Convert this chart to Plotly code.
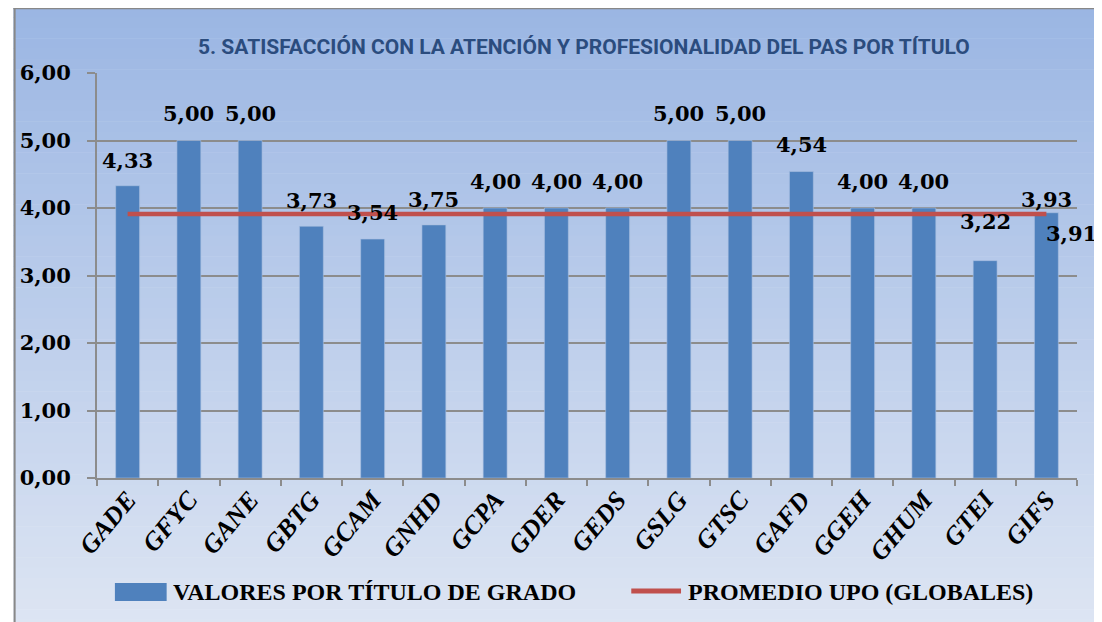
import plotly.graph_objects as go

categories = ["GADE", "GFYC", "GANE", "GBTG", "GCAM", "GNHD", "GCPA", "GDER",
              "GEDS", "GSLG", "GTSC", "GAFD", "GGEH", "GHUM", "GTEI", "GIFS"]
values = [4.33, 5.00, 5.00, 3.73, 3.54, 3.75, 4.00, 4.00,
          4.00, 5.00, 5.00, 4.54, 4.00, 4.00, 3.22, 3.93]
average = 3.91
avg_values = [average] * len(categories)
bar_name = "VALORES POR TÍTULO DE GRADO"
line_name = "PROMEDIO UPO (GLOBALES)"
title = "5. SATISFACCIÓN CON LA ATENCIÓN Y PROFESIONALIDAD DEL PAS POR TÍTULO"
y_ticks = [0, 1, 2, 3, 4, 5, 6]

# label placement offsets (pixels above bar top)
label_shift = [25, 27, 27, 26, 27, 25, 27, 27, 27, 27, 27, 27, 27, 27, 39, 13]

OFF = 8  # page body margin
W, H = 1102 - OFF, 622 - OFF
# plot area in page pixels: x 93..1077, y 73..478
L = 92 - OFF
T = 73 - OFF
R = 1102 - 1077
B = 622 - 478
pw, ph = W - L - R, H - T - B


def px2x(px):
    return (px - OFF - L) / pw


def py2y(py):
    return (H - B - (py - OFF)) / ph


def fmt(v):
    return f"{v:.2f}".replace(".", ",")


BAR = "#4F81BD"
RED = "#C0504D"
GRID = "#8C8C8C"

fig = go.Figure()
fig.add_trace(go.Bar(x=categories, y=values, name=bar_name, marker_color=BAR,
                     marker_line=dict(color="#A9C0E0", width=0.6), showlegend=False))
fig.add_trace(go.Scatter(x=categories, y=avg_values, name=line_name, mode="lines",
                         line=dict(color=RED, width=4.5), showlegend=False))

shapes = []
# gradient background bands
top_c = (155, 182, 227)
bot_c = (221, 229, 243)
y_top_px, y_bot_px = 7, 630
n = 60
for i in range(n):
    t = i / (n - 1)
    c = tuple(round(top_c[k] + (bot_c[k] - top_c[k]) * t) for k in range(3))
    y0 = y_top_px + (y_bot_px - y_top_px) * i / n
    y1 = y_top_px + (y_bot_px - y_top_px) * (i + 1) / n
    shapes.append(dict(type="rect", xref="paper", yref="paper", layer="below",
                       x0=px2x(8), x1=px2x(1110), y0=py2y(y1 + 0.5), y1=py2y(y0),
                       fillcolor="rgb(%d,%d,%d)" % c, line=dict(width=0)))
# frame lines
shapes.append(dict(type="line", xref="paper", yref="paper", layer="below",
                   x0=px2x(8), x1=px2x(1110), y0=py2y(8.2), y1=py2y(8.2),
                   line=dict(color="#888888", width=2)))
shapes.append(dict(type="line", xref="paper", yref="paper", layer="below",
                   x0=px2x(9.2), x1=px2x(9.2), y0=py2y(8), y1=py2y(630),
                   line=dict(color="#888888", width=2)))
# legend swatches
shapes.append(dict(type="rect", xref="paper", yref="paper",
                   x0=px2x(110), x1=px2x(162), y0=py2y(601), y1=py2y(583),
                   fillcolor=BAR, line=dict(width=0)))
shapes.append(dict(type="line", xref="paper", yref="paper",
                   x0=px2x(629), x1=px2x(679), y0=py2y(591), y1=py2y(591),
                   line=dict(color=RED, width=5)))

annotations = []
LABEL_FONT = dict(family="DejaVu Serif", size=21, color="#000000", weight="bold")
for c, v, s in zip(categories, values, label_shift):
    annotations.append(dict(x=c, y=v, xref="x", yref="y", text=fmt(v), showarrow=False,
                            yshift=s, yanchor="middle", font=LABEL_FONT))
annotations.append(dict(x=categories[-1], y=avg_values[-1], xref="x", yref="y",
                        text=fmt(average), showarrow=False, xshift=25, yshift=-19,
                        yanchor="middle", font=LABEL_FONT))
LEG_FONT = dict(family="Liberation Serif", size=24, color="#000000", weight="bold")
annotations.append(dict(x=px2x(166), y=py2y(592), xref="paper", yref="paper",
                        text=bar_name, showarrow=False, xanchor="left", yanchor="middle",
                        font=LEG_FONT))
annotations.append(dict(x=px2x(684), y=py2y(592), xref="paper", yref="paper",
                        text=line_name, showarrow=False, xanchor="left", yanchor="middle",
                        font=LEG_FONT))
annotations.append(dict(x=px2x(581), y=py2y(47), xref="paper", yref="paper",
                        text=title, showarrow=False, xanchor="center", yanchor="middle",
                        font=dict(family="Roboto", size=21,
                                  color="#2B4C7E", weight="bold")))

fig.update_layout(
    width=W, height=H,
    margin=dict(l=L, r=R, t=T, b=B),
    paper_bgcolor="white",
    plot_bgcolor="white",
    separators=",.",
    bargap=0.61,
    shapes=shapes,
    annotations=annotations,
    showlegend=False,
)
fig.update_xaxes(
    type="category", range=[-0.5, len(categories) - 0.5], autorange=False,
    showgrid=False, showline=True, linecolor=GRID, linewidth=2,
    ticks="outside", tickson="boundaries", ticklen=6, tickcolor=GRID, tickwidth=2,
    tickangle=-50, ticklabelstandoff=-6,
    tickfont=dict(family="Liberation Serif", size=26, color="#000000",
                  weight="bold", style="italic"),
)
fig.update_yaxes(
    range=[0, 6], tickvals=y_ticks, tickformat=".2f", showgrid=True, gridcolor=GRID,
    gridwidth=1.5, showline=True, linecolor=GRID, linewidth=2, ticks="outside",
    ticklen=8, tickcolor=GRID, tickwidth=2, ticklabelstandoff=12, zeroline=False,
    tickfont=dict(family="DejaVu Serif", size=21, color="#000000", weight="bold"),
)

fig.write_html("out.html")
